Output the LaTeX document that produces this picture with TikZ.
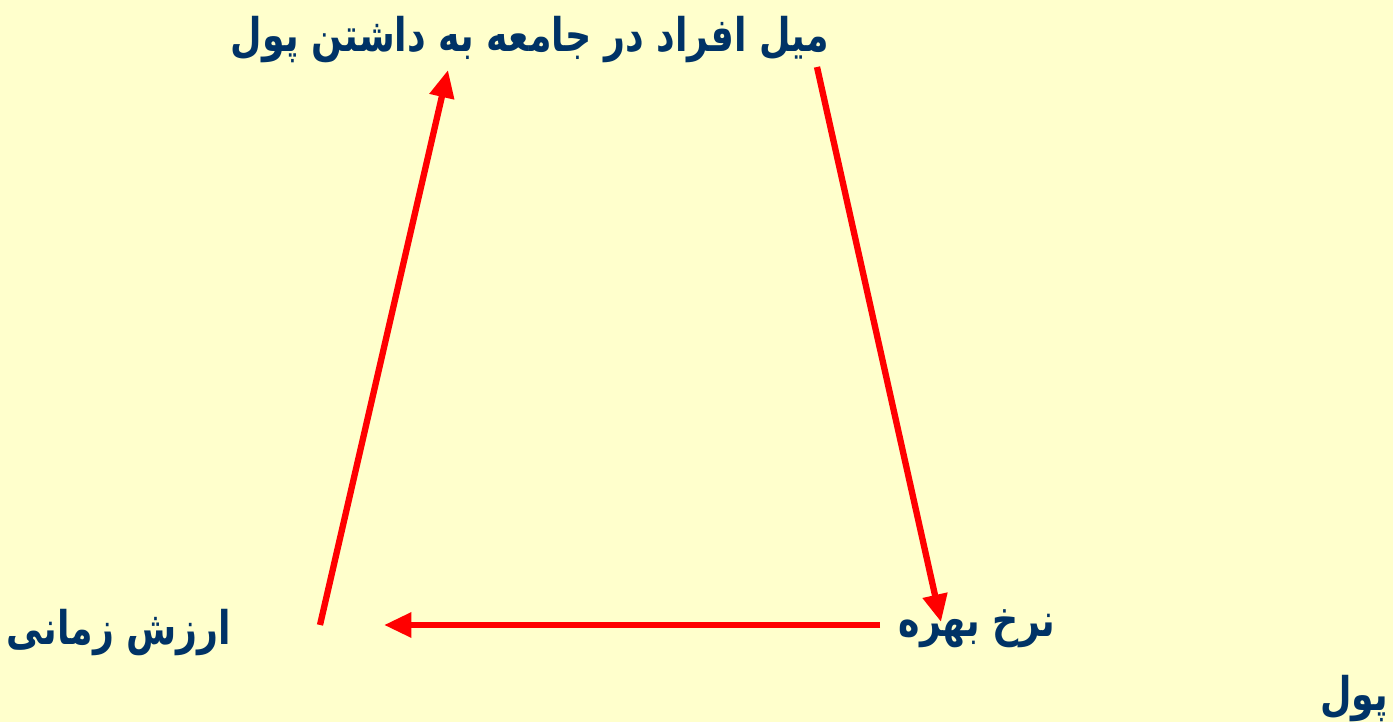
\documentclass[tikz,border=0pt]{standalone}
\usepackage{fontspec}
\usepackage{xcolor}
\usepackage{graphicx}
\usetikzlibrary{arrows.meta,positioning,calc}
\TeXXeTstate=1
\newfontfamily\farsifont[Script=Arabic]{DejaVu Sans}
\definecolor{slidebg}{HTML}{FFFFCC}
\definecolor{labelblue}{HTML}{003366}
\definecolor{flowred}{HTML}{FF0000}
\newcommand{\fatext}[1]{\scalebox{0.94}[1.2]{\beginR #1\endR}}

\begin{document}
\begin{tikzpicture}[x=0.02cm,y=-0.02cm,
    farsi/.style={text=labelblue,inner sep=0pt,font=\farsifont\bfseries\fontsize{22}{26}\selectfont},
    flow/.style={flowred,line width=3.6pt,-{Triangle[length=0.55cm,width=0.48cm]}}]
  % Slide background
  \useasboundingbox (0,0) rectangle (1393,722);
  \fill[slidebg] (0,0) rectangle (1393,722);

  % Labels
  \node[farsi] (mayl) at (530,40) {\fatext{میل افراد در جامعه به داشتن پول}};
  \node[farsi] (arzesh) at (119,633) {\fatext{ارزش زمانی}};
  \node[farsi] (nerkh) at (977,629) {\fatext{نرخ بهره}};
  \node[farsi] (pul) at (1354,699) {\fatext{پول}};

  % Arrow ends
  \coordinate (arzeshOut) at (320,625);
  \coordinate (maylIn) at (448,70);
  \coordinate (maylOut) at (817,67);
  \coordinate (nerkhIn) at (941,622);
  \coordinate (nerkhOut) at (880,625);
  \coordinate (arzeshIn) at (384,625);

  % Cycle
  \draw[flow] (arzeshOut) -- (maylIn);
  \draw[flow] (maylOut) -- (nerkhIn);
  \draw[flow] (nerkhOut) -- (arzeshIn);
\end{tikzpicture}
\end{document}
